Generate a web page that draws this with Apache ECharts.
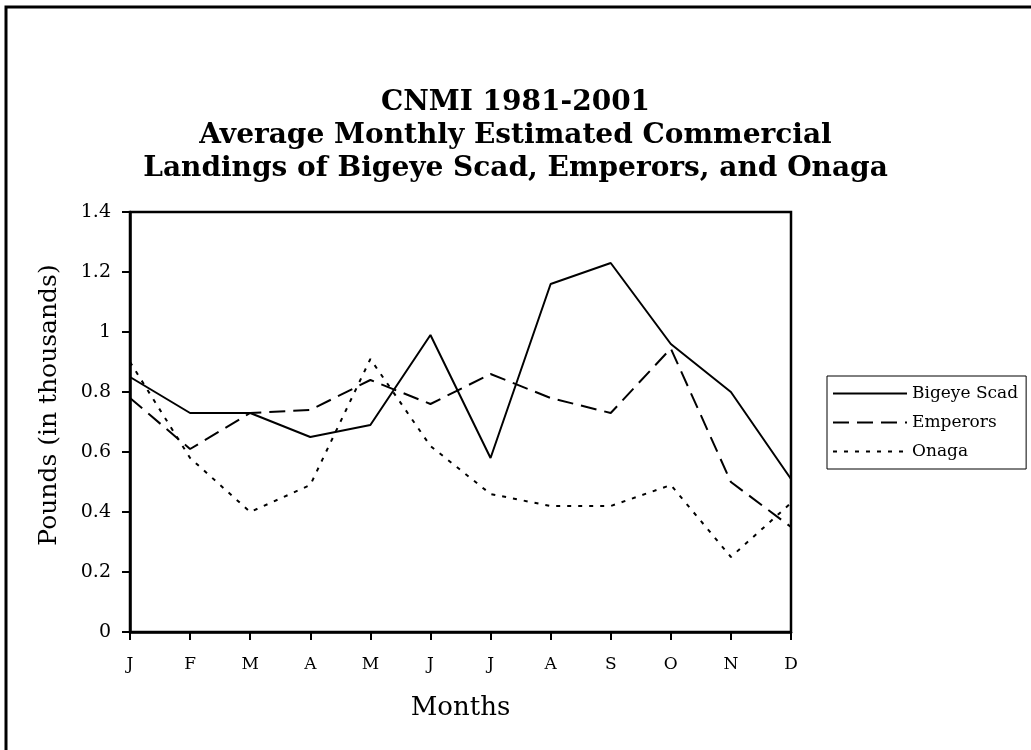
<!DOCTYPE html>
<html>
<head>
<meta charset="utf-8">
<script src="https://cdn.jsdelivr.net/npm/echarts@6/dist/echarts.min.js"></script>
<style>
  html, body { margin: 0; padding: 0; background: #fff; }
  #main { width: 1031px; height: 750px; }
</style>
</head>
<body>
<div id="main"></div>
<script>
// months on x axis
var months = ['J', 'F', 'M', 'A', 'M', 'J', 'J', 'A', 'S', 'O', 'N', 'D']
// values (thousands of pounds)
var bigeyeScad = [0.85, 0.73, 0.73, 0.65, 0.69, 0.99, 0.58, 1.16, 1.23, 0.96, 0.80, 0.51]
var emperors   = [0.78, 0.61, 0.73, 0.74, 0.84, 0.76, 0.86, 0.78, 0.73, 0.945, 0.50, 0.35]
var onaga      = [0.90, 0.58, 0.40, 0.49, 0.91, 0.62, 0.46, 0.42, 0.42, 0.49, 0.25, 0.43]
var seriesNames = ['Bigeye Scad', 'Emperors', 'Onaga']

var chart = echarts.init(document.getElementById('main'))

function lineSeries(name, data, type) {
  return {
    name: name,
    type: 'line',
    data: data,
    symbol: 'none',
    lineStyle: { color: '#000', width: 2, type: type },
    itemStyle: { color: '#000' }
  }
}

chart.setOption({
  animation: false,
  backgroundColor: '#fff',
  title: {
    text: 'CNMI 1981-2001\nAverage Monthly Estimated Commercial\nLandings of Bigeye Scad, Emperors, and Onaga',
    left: 'center',
    top: 81,
    textStyle: {
      fontFamily: 'DejaVu Serif',
      fontWeight: 'bold',
      fontSize: 28,
      lineHeight: 33,
      color: '#000'
    }
  },
  legend: {
    data: seriesNames,
    orient: 'vertical',
    left: 827,
    top: 376,
    itemWidth: 74,
    itemHeight: 14,
    itemGap: 12,
    padding: [9, 8, 9, 5],
    borderColor: '#000',
    borderWidth: 1,
    itemStyle: { opacity: 0 },
    textStyle: { fontFamily: 'DejaVu Serif', fontSize: 17, color: '#000' }
  },
  grid: {
    left: 130,
    right: 240,
    top: 212,
    bottom: 118,
    show: true,
    borderColor: '#000',
    borderWidth: 2.5
  },
  xAxis: {
    type: 'category',
    data: months,
    boundaryGap: false,
    name: 'Months',
    nameLocation: 'middle',
    nameGap: 63,
    nameTextStyle: { fontFamily: 'DejaVu Serif', fontSize: 26, color: '#000' },
    axisLine: { lineStyle: { color: '#000', width: 2.5 } },
    axisTick: { alignWithLabel: true, length: 8, lineStyle: { width: 2, color: '#000' } },
    axisLabel: { fontFamily: 'DejaVu Serif', fontSize: 17, color: '#000', margin: 24 },
    splitLine: { show: false }
  },
  yAxis: {
    type: 'value',
    min: 0,
    max: 1.4,
    interval: 0.2,
    name: 'Pounds (in thousands)',
    nameLocation: 'middle',
    nameGap: 68,
    nameTextStyle: { fontFamily: 'DejaVu Serif', fontSize: 25, color: '#000', padding: [0, 0, 0, 34] },
    axisLine: { show: true, lineStyle: { color: '#000', width: 2.5 } },
    axisTick: { show: true, length: 8, lineStyle: { width: 2, color: '#000' } },
    axisLabel: {
      fontFamily: 'DejaVu Serif',
      fontSize: 19,
      color: '#000',
      margin: 19,
      formatter: function (v) { return String(Math.round(v * 10) / 10) }
    },
    splitLine: { show: false }
  },
  graphic: [{
    type: 'rect',
    shape: { x: 6, y: 7, width: 1100, height: 800 },
    style: { fill: 'none', stroke: '#000', lineWidth: 3 },
    silent: true
  }],
  series: [
    lineSeries(seriesNames[0], bigeyeScad, 'solid'),
    lineSeries(seriesNames[1], emperors, [16, 8]),
    lineSeries(seriesNames[2], onaga, [4, 7])
  ]
})
</script>
</body>
</html>
